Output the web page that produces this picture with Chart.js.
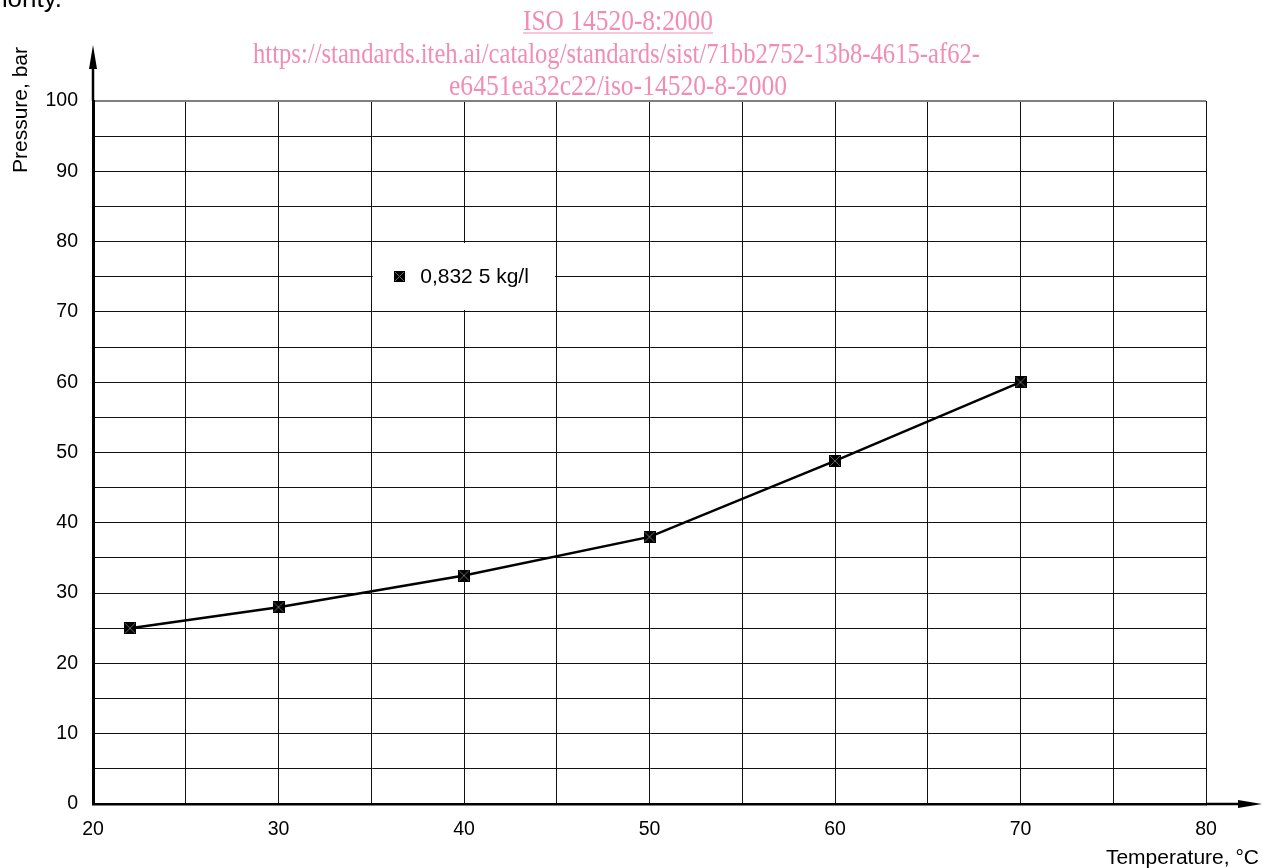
<!DOCTYPE html>
<html>
<head>
<meta charset="utf-8">
<script src="https://cdn.jsdelivr.net/npm/chart.js@4/dist/chart.umd.min.js"></script>
<style>
  html, body { margin: 0; padding: 0; background: #fff; overflow: hidden; }
</style>
</head>
<body>
<canvas id="chart" width="1263" height="868"></canvas>
<script>
// data
const temperatures = [22, 30, 40, 50, 60, 70];
const pressures = [25, 28, 32.5, 38, 48.8, 60];
const seriesLabel = '0,832 5 kg/l';
const xTickLabels = [20, 30, 40, 50, 60, 70, 80];
const yTickLabels = [0, 10, 20, 30, 40, 50, 60, 70, 80, 90, 100];

const FONT = '"Liberation Sans", Arial, sans-serif';
const PINK = 'rgb(241,141,178)';

// black square with a faint cross, like the marker in the original
function makeMarker(size) {
  const c = document.createElement('canvas');
  c.width = c.height = size;
  const g = c.getContext('2d');
  g.fillStyle = '#000';
  g.fillRect(0, 0, size, size);
  g.strokeStyle = '#666';
  g.lineWidth = 1;
  g.beginPath();
  g.moveTo(1, 1); g.lineTo(size - 1, size - 1);
  g.moveTo(size - 1, 1); g.lineTo(1, size - 1);
  g.stroke();
  return c;
}
const marker = makeMarker(12);
const legendMarker = makeMarker(11);

const gridColor = ctx => ctx.tick && ctx.tick.value === 100 ? '#808080' : '#111';
const gridWidth = ctx => ctx.tick && ctx.tick.value === 100 ? 2 : 1;

const decorations = {
  id: 'decorations',
  beforeDatasetsDraw(chart) {
    // white legend panel sitting over the grid
    const { ctx, scales: { x, y } } = chart;
    const l = Math.ceil(x.getPixelForValue(35)) + 1;
    const r = Math.floor(x.getPixelForValue(45)) - 1;
    const t = Math.ceil(y.getPixelForValue(80)) + 1;
    const b = Math.floor(y.getPixelForValue(70)) - 1;
    ctx.save();
    ctx.fillStyle = '#fff';
    ctx.fillRect(l, t, r - l, b - t);
    ctx.restore();
  },
  afterDraw(chart) {
    const { ctx, chartArea: a, scales: { x, y } } = chart;
    ctx.save();

    // axis extensions and arrow heads
    ctx.strokeStyle = '#000';
    ctx.fillStyle = '#000';
    ctx.lineWidth = 2.5;
    ctx.beginPath();
    ctx.moveTo(a.left, a.top);
    ctx.lineTo(a.left, 62);
    ctx.moveTo(a.right, a.bottom);
    ctx.lineTo(1245, a.bottom);
    ctx.stroke();
    ctx.beginPath();
    ctx.moveTo(a.left, 45);
    ctx.lineTo(a.left - 4, 69);
    ctx.lineTo(a.left + 4, 69);
    ctx.closePath();
    ctx.fill();
    ctx.beginPath();
    ctx.moveTo(1262, a.bottom);
    ctx.lineTo(1238, a.bottom - 4);
    ctx.lineTo(1238, a.bottom + 4);
    ctx.closePath();
    ctx.fill();

    // axis titles
    ctx.font = '21px ' + FONT;
    ctx.textBaseline = 'middle';
    ctx.textAlign = 'center';
    ctx.save();
    ctx.translate(21, 110);
    ctx.rotate(-Math.PI / 2);
    ctx.fillText('Pressure, bar', 0, 0);
    ctx.restore();
    ctx.textAlign = 'right';
    ctx.textBaseline = 'alphabetic';
    ctx.fillText('Temperature, \u00B0C', 1259, 864);

    // legend
    const l = x.getPixelForValue(35);
    const mid = y.getPixelForValue(75);
    ctx.drawImage(legendMarker, Math.round(l + 23), Math.round(mid - 5.5));
    ctx.textAlign = 'left';
    ctx.textBaseline = 'middle';
    ctx.fillText(seriesLabel, l + 49, mid);

    // text cut off by the page crop
    ctx.font = '26px ' + FONT;
    ctx.textAlign = 'right';
    ctx.textBaseline = 'alphabetic';
    ctx.fillText('authority.', 62, 7);

    // pink watermark lines (condensed serif)
    ctx.fillStyle = PINK;
    ctx.strokeStyle = PINK;
    ctx.font = '29px "Liberation Serif", "Times New Roman", serif';
    const lines = [
      ['ISO 14520-8:2000', 618, 30, 190, true],
      ['https://standards.iteh.ai/catalog/standards/sist/71bb2752-13b8-4615-af62-', 616.5, 63, 727, false],
      ['e6451ea32c22/iso-14520-8-2000', 618, 95, 338, false]
    ];
    lines.forEach(([txt, cx, base, w, underline]) => {
      const sx = w / ctx.measureText(txt).width;
      ctx.save();
      ctx.translate(cx, base);
      ctx.scale(sx, 1);
      ctx.textAlign = 'center';
      ctx.fillText(txt, 0, 0);
      ctx.restore();
      if (underline) {
        ctx.lineWidth = 1.2;
        ctx.beginPath();
        ctx.moveTo(cx - w / 2, base + 3);
        ctx.lineTo(cx + w / 2, base + 3);
        ctx.stroke();
      }
    });

    ctx.restore();
  }
};

new Chart(document.getElementById('chart'), {
  type: 'line',
  data: {
    datasets: [{
      label: seriesLabel,
      data: temperatures.map((t, i) => ({ x: t, y: pressures[i] })),
      borderColor: '#000',
      borderWidth: 2.5,
      tension: 0,
      pointStyle: marker,
      pointRadius: 6,
      pointHoverRadius: 6
    }]
  },
  options: {
    responsive: false,
    animation: false,
    devicePixelRatio: 1,
    layout: { padding: { top: 101, right: 57, left: 0, bottom: 0 } },
    plugins: {
      legend: { display: false },
      tooltip: { enabled: false }
    },
    scales: {
      x: {
        type: 'linear',
        min: 20,
        max: 80,
        afterFit: s => { s.height = 64; },
        ticks: {
          stepSize: 5,
          autoSkip: false,
          maxRotation: 0,
          padding: 14,
          color: '#000',
          font: { size: 19.5, family: FONT },
          callback: v => xTickLabels.includes(v) ? String(v) : ''
        },
        grid: { color: gridColor, lineWidth: gridWidth, drawTicks: false },
        border: { color: '#000', width: 2.5 }
      },
      y: {
        min: 0,
        max: 100,
        afterFit: s => { s.width = 93; },
        ticks: {
          stepSize: 5,
          autoSkip: false,
          padding: 15,
          color: '#000',
          font: { size: 19.5, family: FONT },
          callback: v => yTickLabels.includes(v) ? String(v) : ''
        },
        grid: { color: gridColor, lineWidth: gridWidth, drawTicks: false },
        border: { color: '#000', width: 3 }
      }
    }
  },
  plugins: [decorations]
});
</script>
</body>
</html>
